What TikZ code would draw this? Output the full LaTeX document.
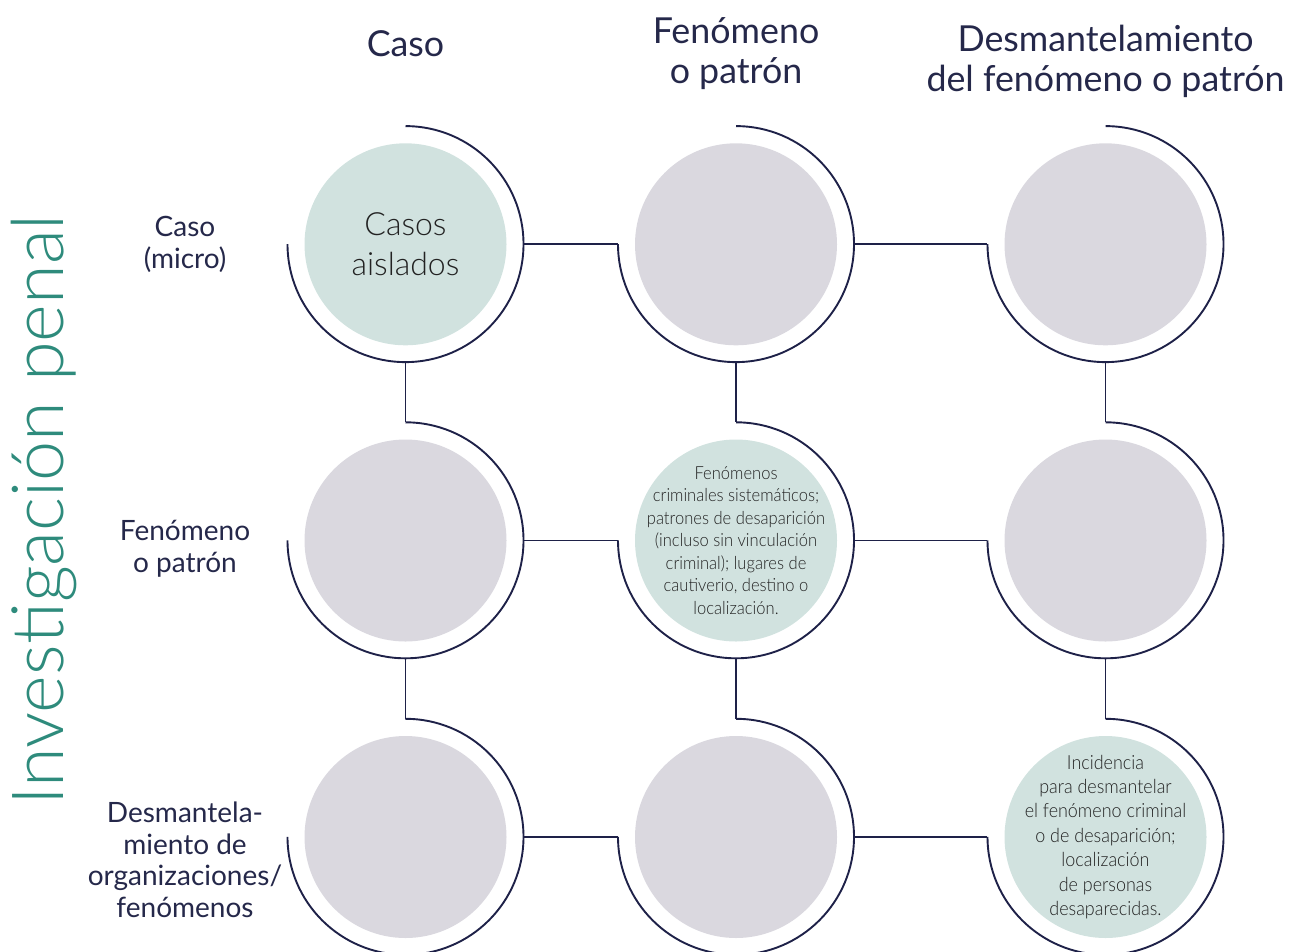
\documentclass[tikz,border=0pt]{standalone}
\usepackage{fontspec}
\setmainfont{Lato}
\newfontfamily\lightf{Lato}[UprightFont=* Light]
\newfontfamily\condf{Lato}[UprightFont=* Light, FakeStretch=0.92]
\definecolor{navy}{HTML}{1E2148}
\definecolor{txtnavy}{HTML}{25284A}
\definecolor{teal}{HTML}{2E8B7C}
\definecolor{gfill}{HTML}{D1E2DF}
\definecolor{pfill}{HTML}{DAD8DF}
\definecolor{ctext}{HTML}{222222}
\begin{document}
\begin{tikzpicture}[x=1pt,y=-1pt,
  disc/.style={circle, minimum size=202pt, inner sep=0pt, fill=pfill},
  gdisc/.style={disc, fill=gfill},
  ctxt/.style={text=ctext, align=center, inner sep=0pt},
  ring/.style={circle, minimum size=236pt, inner sep=0pt},
  line/.style={draw=navy, line width=1.9pt},
  head/.style={text=txtnavy, align=center, font=\fontsize{35.8}{39.5}\selectfont},
  rowlab/.style={text=txtnavy, align=center, font=\fontsize{28}{31.5}\selectfont}
]
\useasboundingbox (0,0) rectangle (1289,951);
% rings and discs
\foreach \r/\yy in {1/244.3, 2/540.5, 3/837} {
  \foreach \c/\xx in {1/405.5, 2/736, 3/1105.5} {
    \node[ring] (r\r\c) at (\xx,\yy) {};
  }
}
\node[gdisc] (c11) at (r11) {};
\node[disc] (c12) at (r12) {};
\node[disc] (c13) at (r13) {};
\node[disc] (c21) at (r21) {};
\node[gdisc] (c22) at (r22) {};
\node[disc] (c23) at (r23) {};
\node[disc] (c31) at (r31) {};
\node[disc] (c32) at (r32) {};
\node[gdisc] (c33) at (r33) {};
\node[ctxt, font=\lightf\fontsize{32}{40}\selectfont] (t11) at (c11) {Casos\\aislados};
\node[ctxt, font=\condf\fontsize{18}{22.5}\selectfont] (t22) at (c22) {Fenómenos\\criminales sistemáticos;\\patrones de desaparición\\(incluso sin vinculación\\criminal); lugares de\\cautiverio, destino o\\localización.};
\node[ctxt, font=\condf\fontsize{19.5}{24.4}\selectfont] (t33) at (c33) {Incidencia\\para desmantelar\\el fenómeno criminal\\o de desaparición;\\localización\\de personas\\desaparecidas.};
% arcs
\foreach \n in {11,12,13,21,22,23,31,32,33} {
  \draw[line] (r\n.north) arc[start angle=90, end angle=-180, radius=118pt];
}
% horizontal connectors
\foreach \r in {1,2,3} {
  \draw[line] (r\r1.east) -- (r\r2.west);
  \draw[line] (r\r2.east) -- (r\r3.west);
}
% vertical connectors
\foreach \c in {1,2,3} {
  \draw[line] (r1\c.south) -- (r2\c.north);
  \draw[line] (r2\c.south) -- (r3\c.north);
}
% column headers (anchor base = last line baseline)
\node[head, anchor=base] (h1) at (405.5,56) {Caso};
\node[head, anchor=base] (h2) at (736,83) {Fenómeno\\o patrón};
\node[head, anchor=base] (h3) at (1105.5,91) {Desmantelamiento\\del fenómeno o patrón};
% row labels
\node[rowlab, anchor=base] (l1) at (185,268) {Caso\\(micro)};
\node[rowlab, anchor=base] (l2) at (185,572) {Fenómeno\\o patrón};
\node[rowlab, anchor=base] (l3) at (185,917) {Desmantela-\\miento de\\organizaciones/\\fenómenos};
% vertical title
\node[text=teal, rotate=90, font=\lightf\fontsize{72}{80}\selectfont, inner sep=0pt] (title) at (44,510) {Investigación penal};
\end{tikzpicture}
\end{document}
